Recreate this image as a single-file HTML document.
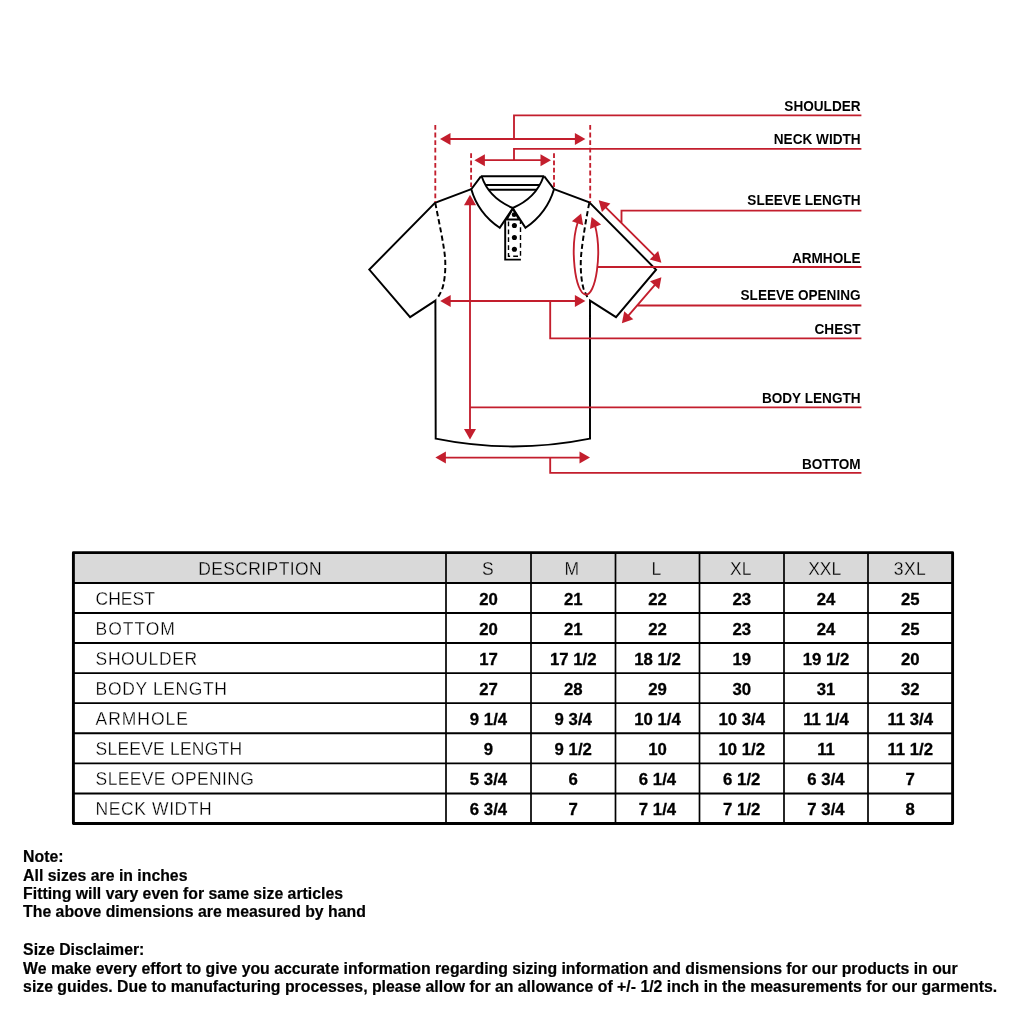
<!DOCTYPE html>
<html>
<head>
<meta charset="utf-8">
<title>Polo Shirt Size Chart</title>
<style>
  html, body { margin: 0; padding: 0; background: #ffffff; }
  body { width: 1024px; height: 1024px; overflow: hidden; font-family: "Liberation Sans", sans-serif; }
  #page { display: block; width: 1024px; height: 1024px; will-change: transform; }
  #page text { font-family: "Liberation Sans", sans-serif; }
  .blk { fill: none; stroke: #000; stroke-width: 1.95; stroke-linejoin: miter; stroke-linecap: butt; }
  .red { fill: none; stroke: #c31e2d; stroke-width: 1.85; }
  .redfill { fill: #c31e2d; stroke: none; }
  .lbl text { font-weight: bold; font-size: 13.6px; fill: #000; }
  .th text { font-size: 17.5px; fill: #000; stroke: #d9d9d9; stroke-width: 0.28px; }
  .td { font-size: 17.5px; fill: #000; stroke: #fff; stroke-width: 0.28px; }
  .num text { font-weight: bold; font-size: 16.75px; fill: #000; stroke: #000; stroke-width: 0.3px; }
  .note text { font-weight: bold; font-size: 15.82px; fill: #000; stroke: #000; stroke-width: 0.2px; }
</style>
</head>
<body>
<svg id="page" viewBox="0 0 1024 1024">
  <!-- SHIRT -->
  <g class="blk">
    <!-- body + sleeves outline -->
    <path d="M471.3 189.2 L435 202.8 L369.3 269.6 L410.1 317.1 L435.4 300.6 L435.7 438.6 Q512.8 454.2 590 438.6 L590 300.6 L616 317.1 L656.1 269.7 L589.3 202.3 L554 189.2"/>
    <!-- collar -->
    <path d="M480.9 176.3 L544.3 176.3"/>
    <path d="M480.9 176.3 L471.3 189.2 Q478 213 499.7 227.8 L512.8 208.4"/>
    <path d="M544.3 176.3 L554 189.2 Q547 213 525.5 227.8 L512.8 208.4"/>
    <path d="M481.8 176.8 Q489 198 512.8 208"/>
    <path d="M543.4 176.8 Q536 198 512.8 208"/>
    <path d="M485.8 184.9 L539 184.9"/>
    <path d="M488.7 189.7 L536.6 189.7"/>
    <!-- placket -->
    <path d="M512.8 208.6 L506.6 219.5 L519.1 219.5 Z"/>
    <path d="M505.2 220 L505.2 259.6 L520.9 259.6"/>
  </g>
  <path class="blk" style="stroke-width:1.4" stroke-dasharray="4.8 3.1" d="M508.5 221.5 L508.5 256.3 L520.5 256.3 L520.5 220"/>
  <circle cx="514.1" cy="214.7" r="2.4"/>
  <circle cx="514.4" cy="225.5" r="2.55"/>
  <circle cx="514.4" cy="237.5" r="2.55"/>
  <circle cx="514.4" cy="249.3" r="2.55"/>
  <!-- armhole dashed -->
  <path class="blk" stroke-dasharray="5.2 3" d="M435.3 203.2 C439 222 444 245 445.1 258.3 C446 272 444 284 442.2 288.8 C440.5 293.5 438.5 296.5 436.6 299"/>
  <path class="blk" stroke-dasharray="5.2 3" d="M589.2 203.2 C585.5 222 581.8 245 580.9 258.3 C580.2 272 582 284 583.6 288.8 C585.3 293.5 587 296.5 588.9 299.2"/>

  <!-- RED MEASUREMENT LINES -->
  <g class="red">
    <path stroke-dasharray="4.8 2.8" d="M435.3 125 L435.3 202"/>
    <path stroke-dasharray="4.8 2.8" d="M590.2 125 L590.2 202"/>
    <path stroke-dasharray="4.7 2.6" d="M471.1 153.2 L471.1 188.5"/>
    <path stroke-dasharray="4.7 2.6" d="M554 153.2 L554 188.5"/>
    <!-- shoulder -->
    <path d="M447 139 L578 139 M514 139 L514 115.3 L861.4 115.3"/>
    <!-- neck -->
    <path d="M482 160.1 L543 160.1 M514 160.1 L514 148.8 L861.4 148.8"/>
    <!-- sleeve length -->
    <path d="M605 206.6 L655 256.4 M621.5 223 L621.5 210.6 L861.4 210.6"/>
    <!-- armhole -->
    <path d="M577.9 221.8 A12 41.6 0 0 0 585.4 294.5 A12 41.6 0 0 0 595 225.2"/>
    <path d="M597.5 267 L861.4 267"/>
    <!-- sleeve opening -->
    <path d="M656.2 283.4 L627.1 317.1 M636.8 305.5 L861.4 305.5"/>
    <!-- chest -->
    <path d="M447 301 L578 301 M550.2 301 L550.2 338.4 L861.4 338.4"/>
    <!-- body length -->
    <path d="M470 203 L470 430 M470 407.3 L861.4 407.3"/>
    <!-- bottom -->
    <path d="M444 457.6 L581 457.6 M550.2 457.6 L550.2 472.9 L861.4 472.9"/>
  </g>
  <g class="redfill">
    <!-- shoulder arrowheads -->
    <path d="M440 139.1 L450.5 133.1 L450.5 145.1 Z"/>
    <path d="M585.4 139.1 L574.9 133.1 L574.9 145.1 Z"/>
    <!-- neck arrowheads -->
    <path d="M474.4 160.3 L484.9 154.3 L484.9 166.3 Z"/>
    <path d="M551 160.3 L540.5 154.3 L540.5 166.3 Z"/>
    <!-- chest arrowheads -->
    <path d="M440.2 301.1 L450.7 295.1 L450.7 307.1 Z"/>
    <path d="M585.4 301.1 L574.9 295.1 L574.9 307.1 Z"/>
    <!-- bottom arrowheads -->
    <path d="M435.4 457.6 L445.9 451.6 L445.9 463.6 Z"/>
    <path d="M590 457.6 L579.5 451.6 L579.5 463.6 Z"/>
    <!-- body length arrowheads -->
    <path d="M470 194.8 L464 205.3 L476 205.3 Z"/>
    <path d="M470 439.4 L464 428.9 L476 428.9 Z"/>
    <!-- sleeve length arrowheads (diagonal) -->
    <g transform="translate(598.7 200.3) rotate(44.8)"><path d="M0 0 L10.5 -6 L10.5 6 Z"/></g>
    <g transform="translate(661.4 262.7) rotate(224.8)"><path d="M0 0 L10.5 -6 L10.5 6 Z"/></g>
    <!-- sleeve opening arrowheads -->
    <g transform="translate(661.4 277.3) rotate(130.7)"><path d="M0 0 L10.5 -6 L10.5 6 Z"/></g>
    <g transform="translate(621.9 323.2) rotate(-49.3)"><path d="M0 0 L10.5 -6 L10.5 6 Z"/></g>
    <!-- armhole arrowheads -->
    <g transform="translate(581.1 213.4) rotate(110)"><path d="M0 0 L10.5 -6 L10.5 6 Z"/></g>
    <g transform="translate(591.6 217) rotate(68)"><path d="M0 0 L10.5 -6 L10.5 6 Z"/></g>
  </g>

  <!-- LABELS -->
  <g class="lbl" text-anchor="end">
    <text transform="translate(860.6 110.6) scale(1 1.03)">SHOULDER</text>
    <text transform="translate(860.6 143.7) scale(1 1.03)">NECK WIDTH</text>
    <text transform="translate(860.6 205.4) scale(1 1.03)">SLEEVE LENGTH</text>
    <text transform="translate(860.6 263.1) scale(1 1.03)">ARMHOLE</text>
    <text transform="translate(860.6 300.0) scale(1 1.03)">SLEEVE OPENING</text>
    <text transform="translate(860.6 333.9) scale(1 1.03)">CHEST</text>
    <text transform="translate(860.6 403.3) scale(1 1.03)">BODY LENGTH</text>
    <text transform="translate(860.6 469.3) scale(1 1.03)">BOTTOM</text>
  </g>

  <!-- TABLE -->
  <rect x="73.5" y="552.7" width="879" height="30.3" fill="#d9d9d9"/>
  <rect x="73.4" y="552.65" width="879.2" height="270.9" fill="none" stroke="#000" stroke-width="2.9" stroke-linejoin="round"/>
  <g stroke="#000" stroke-width="1.9" fill="none">
    <path d="M74 583 L952 583"/>
    <path d="M74 613 L952 613"/>
    <path d="M74 643 L952 643"/>
    <path d="M74 673.1 L952 673.1"/>
    <path d="M74 703.1 L952 703.1"/>
    <path d="M74 733.3 L952 733.3"/>
    <path d="M74 763.4 L952 763.4"/>
    <path d="M74 793.5 L952 793.5"/>
  </g>
  <g stroke="#000" stroke-width="1.7" fill="none">
    <path d="M446 553 L446 823"/>
    <path d="M531 553 L531 823"/>
    <path d="M615.5 553 L615.5 823"/>
    <path d="M699.5 553 L699.5 823"/>
    <path d="M784 553 L784 823"/>
    <path d="M868 553 L868 823"/>
  </g>
  <g class="th" text-anchor="middle">
    <text transform="translate(260.09999999999997 575) scale(1 1.055)" style="letter-spacing:0.4px">DESCRIPTION</text>
    <text transform="translate(487.8 575) scale(1 1.055)">S</text>
    <text transform="translate(571.9 575) scale(1 1.055)">M</text>
    <text transform="translate(656.3 575) scale(1 1.055)">L</text>
    <text transform="translate(740.7 575) scale(1 1.055)">XL</text>
    <text transform="translate(824.7 575) scale(1 1.055)">XXL</text>
    <text transform="translate(910.025 575) scale(1 1.055)" style="letter-spacing:0.45px">3XL</text>
  </g>
  <text class="td" transform="translate(95.6 604.9) scale(1 1.055)" style="letter-spacing:0.0px">CHEST</text>
  <g class="num" text-anchor="middle"><text x="488.5" y="604.9">20</text><text x="573.25" y="604.9">21</text><text x="657.5" y="604.9">22</text><text x="741.75" y="604.9">23</text><text x="826.0" y="604.9">24</text><text x="910.25" y="604.9">25</text></g>
  <text class="td" transform="translate(95.6 635.2) scale(1 1.055)" style="letter-spacing:0.95px">BOTTOM</text>
  <g class="num" text-anchor="middle"><text x="488.5" y="635.2">20</text><text x="573.25" y="635.2">21</text><text x="657.5" y="635.2">22</text><text x="741.75" y="635.2">23</text><text x="826.0" y="635.2">24</text><text x="910.25" y="635.2">25</text></g>
  <text class="td" transform="translate(95.6 664.5) scale(1 1.055)" style="letter-spacing:0.62px">SHOULDER</text>
  <g class="num" text-anchor="middle"><text x="488.5" y="664.5">17</text><text x="573.25" y="664.5">17 1/2</text><text x="657.5" y="664.5">18 1/2</text><text x="741.75" y="664.5">19</text><text x="826.0" y="664.5">19 1/2</text><text x="910.25" y="664.5">20</text></g>
  <text class="td" transform="translate(95.6 694.5) scale(1 1.055)" style="letter-spacing:0.64px">BODY LENGTH</text>
  <g class="num" text-anchor="middle"><text x="488.5" y="694.5">27</text><text x="573.25" y="694.5">28</text><text x="657.5" y="694.5">29</text><text x="741.75" y="694.5">30</text><text x="826.0" y="694.5">31</text><text x="910.25" y="694.5">32</text></g>
  <text class="td" transform="translate(95.6 724.5) scale(1 1.055)" style="letter-spacing:0.97px">ARMHOLE</text>
  <g class="num" text-anchor="middle"><text x="488.5" y="724.5">9 1/4</text><text x="573.25" y="724.5">9 3/4</text><text x="657.5" y="724.5">10 1/4</text><text x="741.75" y="724.5">10 3/4</text><text x="826.0" y="724.5">11 1/4</text><text x="910.25" y="724.5">11 3/4</text></g>
  <text class="td" transform="translate(95.6 754.5) scale(1 1.055)" style="letter-spacing:0.22px">SLEEVE LENGTH</text>
  <g class="num" text-anchor="middle"><text x="488.5" y="754.5">9</text><text x="573.25" y="754.5">9 1/2</text><text x="657.5" y="754.5">10</text><text x="741.75" y="754.5">10 1/2</text><text x="826.0" y="754.5">11</text><text x="910.25" y="754.5">11 1/2</text></g>
  <text class="td" transform="translate(95.6 784.5) scale(1 1.055)" style="letter-spacing:0.365px">SLEEVE OPENING</text>
  <g class="num" text-anchor="middle"><text x="488.5" y="784.5">5 3/4</text><text x="573.25" y="784.5">6</text><text x="657.5" y="784.5">6 1/4</text><text x="741.75" y="784.5">6 1/2</text><text x="826.0" y="784.5">6 3/4</text><text x="910.25" y="784.5">7</text></g>
  <text class="td" transform="translate(95.6 814.5) scale(1 1.055)" style="letter-spacing:0.6px">NECK WIDTH</text>
  <g class="num" text-anchor="middle"><text x="488.5" y="814.5">6 3/4</text><text x="573.25" y="814.5">7</text><text x="657.5" y="814.5">7 1/4</text><text x="741.75" y="814.5">7 1/2</text><text x="826.0" y="814.5">7 3/4</text><text x="910.25" y="814.5">8</text></g>

  <!-- NOTES -->
  <g class="note">
    <text x="23.1" y="862.4">Note:</text>
    <text x="23.1" y="880.9">All sizes are in inches</text>
    <text x="23.1" y="899.1">Fitting will vary even for same size articles</text>
    <text x="23.1" y="917.3">The above dimensions are measured by hand</text>
    <text x="23.1" y="955.3">Size Disclaimer:</text>
    <text x="23.1" y="973.9">We make every effort to give you accurate information regarding sizing information and dismensions for our products in our</text>
    <text x="23.1" y="992.1">size guides. Due to manufacturing processes, please allow for an allowance of +/- 1/2 inch in the measurements for our garments.</text>
  </g>
</svg>
</body>
</html>
